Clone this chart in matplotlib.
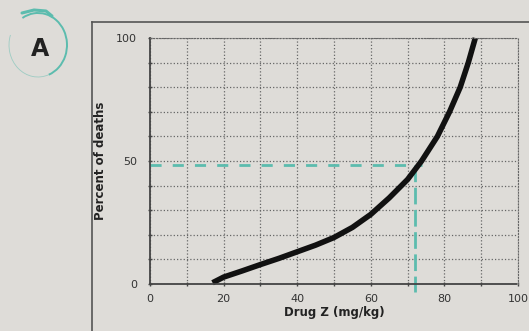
import matplotlib
matplotlib.use("Agg")
import matplotlib.pyplot as plt
from matplotlib.patches import Arc
from matplotlib.ticker import MultipleLocator

# dose-response curve
dose = [17, 20, 25, 30, 35, 40, 45, 50, 55, 60, 65, 70, 73.8, 78.1, 81.4, 84.3, 86.5, 88.4]
deaths = [0.5, 2.8, 5.3, 7.9, 10.4, 13.1, 15.8, 18.9, 23, 28.3, 35, 42.5, 50, 60, 70, 80, 90, 100]

# teal LD50 guide lines
ld50_y = 48.5
ld50_x = 72
guide_right = 74
guide_bottom = -3.3

x_ticks = [0, 20, 40, 60, 80, 100]
y_ticks = [0, 50, 100]

BG = '#dedcd8'
TEAL = '#5cbcae'

fig = plt.figure(figsize=(5.29, 3.31), dpi=100)
fig.patch.set_facecolor(BG)

# overlay in pixel coordinates for the frame and the "A" mark
ov = fig.add_axes([0, 0, 1, 1])
ov.set_xlim(0, 529)
ov.set_ylim(331, 0)
ov.axis('off')
ov.plot([92, 92], [22, 331], color='#555555', lw=1.2)
ov.plot([92, 529], [22, 22], color='#555555', lw=1.2)
ov.text(40, 49, 'A', fontsize=17, fontweight='bold', ha='center', va='center', color='#222222')
# hand-drawn circle round the letter: faint on the left, stronger on the right
ov.add_patch(Arc((38, 45), 58, 64, theta1=-120, theta2=70, color=TEAL, lw=1.4))
ov.add_patch(Arc((38, 45), 58, 64, theta1=70, theta2=200, color=TEAL, lw=0.6, alpha=0.5))
ov.plot([22, 34, 46, 52], [13, 10, 11, 16], color=TEAL, lw=2.2, solid_capstyle='round')

ax = fig.add_axes([150 / 529, 1 - 284 / 331, 368 / 529, 246 / 331])
ax.set_facecolor(BG)
ax.set_xlim(0, 100)
ax.set_ylim(0, 100)

ax.xaxis.set_minor_locator(MultipleLocator(10))
ax.yaxis.set_minor_locator(MultipleLocator(10))
ax.set_xticks(x_ticks)
ax.set_yticks(y_ticks)
ax.grid(which='both', color='#666666', linestyle=':', linewidth=0.9)
ax.tick_params(which='both', direction='inout', length=3, width=1, colors='#444444',
               labelsize=8, labelcolor='#333333')
ax.tick_params(axis='x', pad=6)
ax.tick_params(axis='y', pad=8)
for s in ['top', 'right']:
    ax.spines[s].set_linestyle(':')
    ax.spines[s].set_color('#666666')
for s in ['left', 'bottom']:
    ax.spines[s].set_linestyle((0, (1, 1)))
    ax.spines[s].set_color('#444444')
    ax.spines[s].set_linewidth(1.3)

ax.plot([0, guide_right], [ld50_y, ld50_y], color=TEAL, lw=2, linestyle=(0, (4, 4)))
ax.plot([ld50_x, ld50_x], [ld50_y, guide_bottom], color=TEAL, lw=2,
        linestyle=(0, (6, 2)), clip_on=False)
ax.plot(dose, deaths, color='#111111', lw=4, solid_capstyle='butt',
        solid_joinstyle='round', clip_on=False)

ax.set_xlabel('Drug Z (mg/kg)', fontsize=8.5, fontweight='bold', color='#222222', labelpad=1)
ax.set_ylabel('Percent of deaths', fontsize=8.5, fontweight='bold', color='#222222', labelpad=6)

fig.savefig('out.png', dpi=100, facecolor=BG)
